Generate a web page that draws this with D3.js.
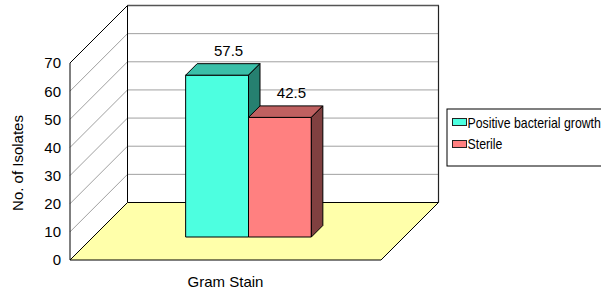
<!DOCTYPE html>
<html><head><meta charset="utf-8">
<script src="https://cdn.jsdelivr.net/npm/d3@7"></script>
<style>html,body{margin:0;padding:0;background:#fff;overflow:hidden}</style>
</head><body>
<svg id="c" width="601" height="293"></svg>
<script>
const categories = ["Gram Stain"];
const seriesNames = ["Positive bacterial growth", "Sterile"];
const seriesValues = [57.5, 42.5];
const yTicks = [0, 10, 20, 30, 40, 50, 60, 70];
const yTitle = "No. of Isolates";

const frontColors = ["#4dffe0", "#ff8080"];
const topColors = ["#3abfa8", "#bf6060"];
const sideColors = ["#268070", "#804040"];

const svg = d3.select("#c");
const font = "'Liberation Sans', Arial, sans-serif";
const DX = 57.5, DY = -57.5;
const y = d3.scaleLinear().domain([0, 70]).range([260, 63]);
const x = d3.scaleBand().domain(categories).range([70, 381]).paddingOuter(0.737).paddingInner(0);
const xs = d3.scaleBand().domain(seriesNames).range([0, x.bandwidth()]);
const depth = d3.scaleLinear().domain([0, 1]).range([0, 1]);
const d0 = 0.4, d1 = 0.6;
const P = (px, py, d) => [px + DX * d, py + DY * d];
const pts = a => a.map(p => p.join(",")).join(" ");

const x0 = x.range()[0], x1 = x.range()[1];
// back wall
const bw = svg.append("g");
bw.append("rect").attr("x", x0 + DX).attr("y", y(70) + DY).attr("width", x1 - x0).attr("height", y(0) - y(70)).attr("fill", "#fff");
// left wall
svg.append("polygon").attr("points", pts([[x0, y(0)], [x0, y(70)], P(x0, y(70), 1), P(x0, y(0), 1)])).attr("fill", "#fff");
// gridlines
yTicks.filter(v => v > 0 && v < 70).forEach(v => {
  svg.append("line").attr("x1", x0 + DX).attr("x2", x1 + DX).attr("y1", y(v) + DY).attr("y2", y(v) + DY)
    .attr("stroke", "#a0a0a0").attr("stroke-width", 1);
  svg.append("line").attr("x1", x0).attr("y1", y(v)).attr("x2", x0 + DX).attr("y2", y(v) + DY)
    .attr("stroke", "#a0a0a0").attr("stroke-width", 1);
});
// back wall borders
svg.append("line").attr("x1", x0 + DX).attr("x2", x1 + DX + 0.5).attr("y1", y(70) + DY).attr("y2", y(70) + DY).attr("stroke", "#555").attr("stroke-width", 1.6);
svg.append("line").attr("x1", x1 + DX).attr("x2", x1 + DX).attr("y1", y(70) + DY).attr("y2", y(0) + DY).attr("stroke", "#222").attr("stroke-width", 1.2);
svg.append("line").attr("x1", x0 + DX).attr("x2", x0 + DX).attr("y1", y(70) + DY).attr("y2", y(0) + DY).attr("stroke", "#000");
// left wall borders
svg.append("line").attr("x1", x0).attr("x2", x0).attr("y1", y(70)).attr("y2", y(0)).attr("stroke", "#000");
svg.append("line").attr("x1", x0).attr("y1", y(70)).attr("x2", x0 + DX).attr("y2", y(70) + DY).attr("stroke", "#000");
// floor
svg.append("polygon").attr("points", pts([[x0, y(0)], [x1, y(0)], P(x1, y(0), 1), P(x0, y(0), 1)]))
  .attr("fill", "#ffffaa").attr("stroke", "#000").attr("stroke-width", 1);

// bars
const bars = svg.append("g");
categories.forEach(c => {
  seriesNames.forEach((s, i) => {
    const v = seriesValues[i];
    const bx0 = x(c) + xs(s), bx1 = bx0 + xs.bandwidth();
    const yt = y(v), yb = y(0);
    const g = bars.append("g").attr("stroke", "#000").attr("stroke-width", 1).attr("stroke-linejoin", "round");
    g.append("polygon").attr("points", pts([P(bx0, yb, d0), P(bx1, yb, d0), P(bx1, yt, d0), P(bx0, yt, d0)])).attr("fill", frontColors[i]);
    g.append("polygon").attr("points", pts([P(bx0, yt, d0), P(bx1, yt, d0), P(bx1, yt, d1), P(bx0, yt, d1)])).attr("fill", topColors[i]);
    g.append("polygon").attr("points", pts([P(bx1, yb, d0), P(bx1, yb, d1), P(bx1, yt, d1), P(bx1, yt, d0)])).attr("fill", sideColors[i]);
    const lp = P((bx0 + bx1) / 2, yt, d1);
    svg.append("text").attr("x", lp[0]).attr("y", lp[1] - 8).attr("text-anchor", "middle")
      .attr("font-family", font).attr("font-size", 15).attr("fill", "#000").text(v);
  });
});

// y tick labels
svg.append("g").selectAll("text").data(yTicks).join("text")
  .attr("x", 61).attr("y", d => y(d)).attr("dy", "0.36em").attr("text-anchor", "end")
  .attr("font-family", font).attr("font-size", 15).attr("fill", "#000").text(d => d);

// y title
svg.append("text").attr("transform", "translate(23,163) rotate(-90)").attr("text-anchor", "middle")
  .attr("font-family", font).attr("font-size", 15).attr("fill", "#000").text(yTitle);

// x category label
svg.append("g").selectAll("text").data(categories).join("text")
  .attr("x", d => x(d) + x.bandwidth() / 2).attr("y", 287).attr("text-anchor", "middle")
  .attr("font-family", font).attr("font-size", 15).attr("fill", "#000").text(d => d);

// legend
const lg = svg.append("g");
lg.append("rect").attr("x", 447).attr("y", 109).attr("width", 200).attr("height", 57).attr("fill", "#fff").attr("stroke", "#000");
seriesNames.forEach((s, i) => {
  lg.append("rect").attr("x", 452.5).attr("y", 118.5 + i * 22).attr("width", 14).attr("height", 7)
    .attr("fill", frontColors[i]).attr("stroke", "#222").attr("stroke-width", 1);
  lg.append("text").attr("transform", `translate(467.5,${127.5 + i * 21}) scale(0.88,1)`)
    .attr("font-family", font).attr("font-size", 14).attr("fill", "#000").text(s);
});
</script>
</body></html>
